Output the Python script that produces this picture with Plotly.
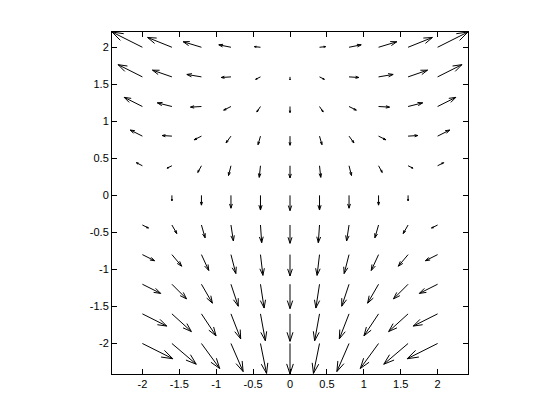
import numpy as np
import plotly.figure_factory as ff
import plotly.graph_objects as go

# grid of arrow tails
x_vals = [-2.0, -1.6, -1.2, -0.8, -0.4, 0.0, 0.4, 0.8, 1.2, 1.6, 2.0]
y_vals = [2.0, 1.6, 1.2, 0.8, 0.4, 0.0, -0.4, -0.8, -1.2, -1.6, -2.0]   # rows, top to bottom

# arrow components (rows follow y_vals)
u_rows = [
    [-0.40, -0.32, -0.24, -0.16, -0.08, 0.0, 0.08, 0.16, 0.24, 0.32, 0.40],
    [-0.32, -0.256, -0.192, -0.128, -0.064, 0.0, 0.064, 0.128, 0.192, 0.256, 0.32],
    [-0.24, -0.192, -0.144, -0.096, -0.048, 0.0, 0.048, 0.096, 0.144, 0.192, 0.24],
    [-0.16, -0.128, -0.096, -0.064, -0.032, 0.0, 0.032, 0.064, 0.096, 0.128, 0.16],
    [-0.08, -0.064, -0.048, -0.032, -0.016, 0.0, 0.016, 0.032, 0.048, 0.064, 0.08],
    [0.0, 0.0, 0.0, 0.0, 0.0, 0.0, 0.0, 0.0, 0.0, 0.0, 0.0],
    [0.08, 0.064, 0.048, 0.032, 0.016, 0.0, -0.016, -0.032, -0.048, -0.064, -0.08],
    [0.16, 0.128, 0.096, 0.064, 0.032, 0.0, -0.032, -0.064, -0.096, -0.128, -0.16],
    [0.24, 0.192, 0.144, 0.096, 0.048, 0.0, -0.048, -0.096, -0.144, -0.192, -0.24],
    [0.32, 0.256, 0.192, 0.128, 0.064, 0.0, -0.064, -0.128, -0.192, -0.256, -0.32],
    [0.40, 0.32, 0.24, 0.16, 0.08, 0.0, -0.08, -0.16, -0.24, -0.32, -0.40],
]
v_rows = [
    [0.20, 0.128, 0.072, 0.032, 0.008, 0.0, 0.008, 0.032, 0.072, 0.128, 0.20],
    [0.16, 0.088, 0.032, -0.008, -0.032, -0.04, -0.032, -0.008, 0.032, 0.088, 0.16],
    [0.12, 0.048, -0.008, -0.048, -0.072, -0.08, -0.072, -0.048, -0.008, 0.048, 0.12],
    [0.08, 0.008, -0.048, -0.088, -0.112, -0.12, -0.112, -0.088, -0.048, 0.008, 0.08],
    [0.04, -0.032, -0.088, -0.128, -0.152, -0.16, -0.152, -0.128, -0.088, -0.032, 0.04],
    [0.0, -0.072, -0.128, -0.168, -0.192, -0.20, -0.192, -0.168, -0.128, -0.072, 0.0],
    [-0.04, -0.112, -0.168, -0.208, -0.232, -0.24, -0.232, -0.208, -0.168, -0.112, -0.04],
    [-0.08, -0.152, -0.208, -0.248, -0.272, -0.28, -0.272, -0.248, -0.208, -0.152, -0.08],
    [-0.12, -0.192, -0.248, -0.288, -0.312, -0.32, -0.312, -0.288, -0.248, -0.192, -0.12],
    [-0.16, -0.232, -0.288, -0.328, -0.352, -0.36, -0.352, -0.328, -0.288, -0.232, -0.16],
    [-0.20, -0.272, -0.328, -0.368, -0.392, -0.40, -0.392, -0.368, -0.328, -0.272, -0.20],
]

tick_vals = [-2, -1.5, -1, -0.5, 0, 0.5, 1, 1.5, 2]
tick_text = ["-2", "-1.5", "-1", "-0.5", "0", "0.5", "1", "1.5", "2"]

X, Y = np.meshgrid(x_vals, y_vals)
U = np.array(u_rows)
V = np.array(v_rows)

fig = ff.create_quiver(
    X.flatten().tolist(), Y.flatten().tolist(),
    U.flatten().tolist(), V.flatten().tolist(),
    scale=1.03, arrow_scale=0.348, angle=0.32,
    line=dict(color="black", width=1),
)
fig.update_traces(hoverinfo="skip", showlegend=False)

axis_common = dict(
    showline=True, linecolor="black", linewidth=1, mirror="allticks",
    ticks="inside", ticklen=5, tickcolor="black", tickwidth=1,
    showgrid=False, zeroline=False,
    tickvals=tick_vals, ticktext=tick_text,
    tickfont=dict(family="Liberation Sans, Arial, sans-serif", size=11, color="black"),
)

# page body has an 8px default margin, so offsets are compensated here
fig.update_layout(
    width=560, height=420,
    margin=dict(l=104, r=100, t=24, b=54, pad=0),
    paper_bgcolor="white", plot_bgcolor="white",
    showlegend=False,
    xaxis=dict(range=[-2.412, 2.412], **axis_common),
    yaxis=dict(range=[-2.412, 2.206], **axis_common),
)

fig.write_html("out.html")
